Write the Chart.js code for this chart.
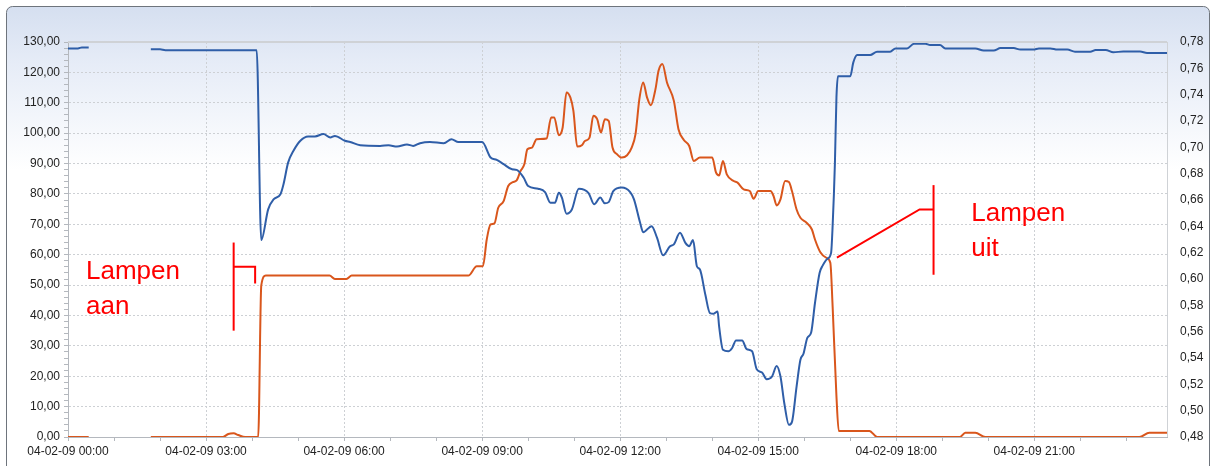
<!DOCTYPE html>
<html>
<head>
<meta charset="utf-8">
<script src="https://cdn.jsdelivr.net/npm/chart.js@4.4.1/dist/chart.umd.min.js"></script>
<style>
  html, body { margin: 0; padding: 0; background: #fff; }
  canvas { display: block; }
</style>
</head>
<body>
<canvas id="lampChart" width="1212" height="466"></canvas>
<script>
// Lampen aan / uit - twee meetreeksen over een dag (04-02-09)
const xTickLabels = ['04-02-09 00:00', '04-02-09 03:00', '04-02-09 06:00', '04-02-09 09:00',
  '04-02-09 12:00', '04-02-09 15:00', '04-02-09 18:00', '04-02-09 21:00'];

// blauwe reeks (linker as, 0 - 130)
const blueTimes = ['00:00', '00:13', '00:18', '00:27', '00:50', '01:48', '02:00', '02:07', '04:06', '04:12',
  '04:21', '04:28', '04:37', '04:41', '04:47', '04:54', '05:03', '05:13', '05:22', '05:33',
  '05:42', '05:48', '06:01', '06:08', '06:21', '06:47', '06:58', '07:09', '07:22', '07:30',
  '07:39', '07:52', '08:10', '08:20', '08:29', '09:00', '09:11', '09:19', '09:28', '09:39',
  '09:45', '09:54', '10:00', '10:13', '10:22', '10:29', '10:35', '10:40', '10:44', '10:50',
  '10:57', '11:06', '11:19', '11:26', '11:34', '11:40', '11:45', '11:51', '12:02', '12:13',
  '12:18', '12:26', '12:30', '12:41', '12:48', '12:56', '13:05', '13:10', '13:18', '13:25',
  '13:30', '13:35', '13:40', '13:44', '13:51', '13:57', '14:02', '14:07', '14:09', '14:14',
  '14:21', '14:26', '14:31', '14:39', '14:45', '14:52', '14:58', '15:05', '15:11', '15:18',
  '15:24', '15:29', '15:34', '15:40', '15:44', '15:50', '15:55', '15:59', '16:04', '16:09',
  '16:14', '16:20', '16:24', '16:30', '16:35', '16:37', '16:40', '16:42', '16:44', '17:00',
  '17:04', '17:09', '17:26', '17:35', '17:52', '17:59', '18:14', '18:23', '18:38', '18:44',
  '18:57', '19:04', '19:43', '19:54', '20:07', '20:16', '20:33', '20:42', '20:59', '21:06',
  '21:21', '21:30', '21:43', '21:53', '22:13', '22:20', '22:33', '22:43', '22:56', '23:18',
  '23:27', '23:53'];
const blueValues = [127.9, 127.9, 128.2, 128.2, null, 127.6, 127.6, 127.3, 127.3, 64.8,
  74.9, 78.2, 79.9, 83.2, 90.3, 94.2, 97.5, 98.9, 98.9, 99.7,
  98.6, 99.1, 97.5, 97.1, 96.0, 95.8, 96.0, 95.6, 96.3, 95.8,
  96.7, 97.1, 96.7, 98.0, 97.1, 97.1, 92.0, 91.2, 89.8, 88.1,
  87.9, 85.4, 82.6, 81.7, 80.6, 77.1, 77.1, 80.4, 78.8, 73.5,
  74.9, 81.7, 80.2, 76.6, 78.8, 76.9, 77.3, 80.9, 82.1, 80.6,
  78.2, 70.5, 67.4, 69.4, 65.6, 59.8, 62.8, 63.4, 67.2, 63.9,
  62.8, 64.8, 56.2, 55.1, 46.9, 40.8, 40.6, 41.3, 36.4, 28.7,
  28.2, 29.3, 31.8, 31.8, 28.9, 28.2, 22.3, 21.2, 19.0, 19.9,
  23.4, 19.9, 11.1, 4.0, 5.0, 16.6, 25.4, 27.4, 32.6, 34.4,
  44.1, 54.0, 56.4, 58.6, 60.6, 69.4, 90.3, 111.8, 118.7, 118.7,
  123.3, 125.7, 125.7, 126.8, 126.8, 127.9, 127.9, 129.4, 129.4, 129.0,
  129.0, 127.9, 127.9, 127.2, 127.2, 128.0, 128.0, 127.5, 127.5, 127.9,
  127.9, 127.5, 127.5, 126.8, 126.8, 127.4, 127.4, 126.6, 126.9, 126.9,
  126.4, 126.4];

// oranje reeks (rechter as, 0,48 - 0,78)
const orangeTimes = ['00:00', '00:27', '00:50', '01:48', '03:22', '03:29', '03:36', '03:42', '03:51', '04:08',
  '04:12', '04:18', '05:41', '05:48', '06:03', '06:10', '08:42', '08:53', '09:01', '09:06',
  '09:11', '09:16', '09:21', '09:28', '09:34', '09:40', '09:45', '09:50', '09:55', '09:59',
  '10:05', '10:11', '10:24', '10:30', '10:34', '10:40', '10:45', '10:50', '10:55', '10:59',
  '11:04', '11:10', '11:14', '11:20', '11:25', '11:30', '11:35', '11:40', '11:45', '11:50',
  '11:56', '12:02', '12:09', '12:15', '12:20', '12:25', '12:30', '12:35', '12:40', '12:46',
  '12:50', '12:55', '13:01', '13:10', '13:16', '13:23', '13:30', '13:36', '13:44', '14:00',
  '14:05', '14:09', '14:14', '14:19', '14:28', '14:33', '14:41', '14:49', '14:54', '15:00',
  '15:16', '15:20', '15:24', '15:29', '15:35', '15:40', '15:44', '15:50', '15:55', '16:03',
  '16:10', '16:14', '16:21', '16:29', '16:34', '16:37', '16:42', '16:45', '17:25', '17:35',
  '19:23', '19:30', '19:43', '19:56', '23:17', '23:30', '23:53'];
const orangeValues = [0.48, 0.48, null, 0.48, 0.48, 0.4823, 0.4828, 0.4815, 0.48, 0.48,
  0.595, 0.6026, 0.6026, 0.600, 0.600, 0.6026, 0.6026, 0.6097, 0.6097, 0.630,
  0.6414, 0.6422, 0.6541, 0.6592, 0.6706, 0.6736, 0.6749, 0.682, 0.6871, 0.6985,
  0.6998, 0.7061, 0.7067, 0.7227, 0.7227, 0.7092, 0.7151, 0.7417, 0.7379, 0.7277,
  0.7006, 0.7016, 0.7048, 0.7074, 0.7239, 0.7214, 0.7112, 0.7214, 0.7201, 0.6998,
  0.6947, 0.6922, 0.694, 0.6998, 0.71, 0.7366, 0.7493, 0.7379, 0.732, 0.7442,
  0.7581, 0.7633, 0.7493, 0.7353, 0.7138, 0.7056, 0.701, 0.6896, 0.6922, 0.6922,
  0.6808, 0.6787, 0.6896, 0.6795, 0.6744, 0.6732, 0.6681, 0.6668, 0.661, 0.6668,
  0.6668, 0.663, 0.6559, 0.6605, 0.6744, 0.6736, 0.6668, 0.6528, 0.6465, 0.6427,
  0.6376, 0.63, 0.6203, 0.616, 0.6123, 0.5792, 0.5107, 0.4846, 0.4846, 0.48,
  0.48, 0.4833, 0.4833, 0.48, 0.48, 0.4833, 0.4833];

// annotaties in data-eenheden (minuten, linker as)
const aanLines = [[[216, 64], [216, 35]], [[216, 56], [244, 56], [244, 50.5]]];
const uitLines = [[[1128.6, 82.9], [1128.6, 53.4]], [[1128.6, 74.9], [1110.4, 74.9], [1002.6, 59.0]]];
const aanText = [['Lampen', 23.5, 52.0], ['aan', 23.5, 40.6]];
const uitText = [['Lampen', 1177.8, 71.0], ['uit', 1177.8, 59.5]];

const toMin = s => { const p = s.split(':'); return (+p[0]) * 60 + (+p[1]); };
const points = (times, vals) => times.map((t, i) => ({ x: toMin(t), y: vals[i] }));
const comma = (v, d) => v.toFixed(d).replace('.', ',');

const panelPlugin = {
  id: 'panel',
  beforeDraw(chart) {
    const c = chart.ctx;
    c.save();
    c.fillStyle = '#ffffff';
    c.fillRect(0, 0, chart.width, chart.height);
    const g = c.createLinearGradient(0, 6, 0, 170);
    g.addColorStop(0, '#d5dff0');
    g.addColorStop(0.35, '#e6ecf7');
    g.addColorStop(1, '#ffffff');
    c.beginPath();
    c.roundRect(6.5, 6.5, chart.width - 9, chart.height + 20, 6);
    c.fillStyle = g;
    c.fill();
    c.strokeStyle = '#6e747c';
    c.lineWidth = 1;
    c.stroke();
    c.restore();
  },
  afterDraw(chart) {
    const c = chart.ctx;
    const a = chart.chartArea;
    const xs = chart.scales.x, ys = chart.scales.y;
    c.save();
    c.strokeStyle = '#cfd2d6';
    c.lineWidth = 2;
    c.beginPath();
    c.moveTo(a.left, a.top);
    c.lineTo(a.right, a.top);
    c.stroke();
    c.lineWidth = 1;
    c.beginPath();
    c.moveTo(Math.round(a.right) + 0.5, a.top);
    c.lineTo(Math.round(a.right) + 0.5, a.bottom);
    c.stroke();

    c.strokeStyle = '#ff0000';
    c.lineWidth = 2;
    [...aanLines, ...uitLines].forEach(line => {
      c.beginPath();
      line.forEach((p, i) => {
        const px = xs.getPixelForValue(p[0]), py = ys.getPixelForValue(p[1]);
        if (i === 0) c.moveTo(px, py); else c.lineTo(px, py);
      });
      c.stroke();
    });
    c.fillStyle = '#ff0000';
    c.font = '26px "Liberation Sans", Arial, sans-serif';
    c.textBaseline = 'alphabetic';
    [...aanText, ...uitText].forEach(t => {
      c.fillText(t[0], xs.getPixelForValue(t[1]), ys.getPixelForValue(t[2]));
    });
    c.restore();
  }
};

const tickFont = { family: '"Liberation Sans", Arial, sans-serif', size: 12 };

new Chart(document.getElementById('lampChart'), {
  type: 'line',
  data: {
    datasets: [{
      data: points(blueTimes, blueValues),
      yAxisID: 'y',
      borderColor: '#2f5ea8',
      borderWidth: 2,
      pointRadius: 0,
      cubicInterpolationMode: 'monotone',
      spanGaps: false
    }, {
      data: points(orangeTimes, orangeValues),
      yAxisID: 'y1',
      borderColor: '#d9561c',
      borderWidth: 2,
      pointRadius: 0,
      cubicInterpolationMode: 'monotone',
      spanGaps: false
    }]
  },
  options: {
    responsive: false,
    animation: false,
    layout: { padding: { top: 42, left: 0, right: 0, bottom: 0 } },
    plugins: { legend: { display: false }, tooltip: { enabled: false } },
    scales: {
      x: {
        type: 'linear',
        min: 0,
        max: 1433,
        afterFit: s => { s.height = 29; },
        border: { color: '#b4b8be', dash: [2, 2] },
        grid: {
          color: c => (c.tick && c.tick.value % 180 === 0 && c.tick.value > 0) ? '#cdd0d4' : 'transparent',
          tickColor: c => (c.tick && c.tick.value % 60 === 0) ? '#b4b8be' : 'transparent',
          tickLength: 4
        },
        ticks: {
          stepSize: 60,
          includeBounds: false,
          autoSkip: false,
          maxRotation: 0,
          padding: 3,
          color: '#222222',
          font: tickFont,
          callback: v => (v % 180 === 0 ? xTickLabels[v / 180] : '')
        }
      },
      y: {
        position: 'left',
        min: 0,
        max: 130,
        afterFit: s => { s.width = 68; },
        border: { color: '#b4b8be', dash: [2, 2] },
        grid: {
          color: c => (c.tick && c.tick.value % 10 === 0 && c.tick.value > 0 && c.tick.value < 130) ? '#cdd0d4' : 'transparent',
          tickColor: '#b4b8be',
          tickLength: 4
        },
        ticks: {
          stepSize: 2,
          autoSkip: false,
          padding: 4,
          color: '#222222',
          font: tickFont,
          callback: v => (v % 10 === 0 ? comma(v, 2) : '')
        }
      },
      y1: {
        position: 'right',
        min: 0.48,
        max: 0.78,
        afterFit: s => { s.width = 45; },
        border: { display: false },
        grid: { drawOnChartArea: false, drawTicks: false },
        ticks: {
          stepSize: 0.02,
          autoSkip: false,
          padding: 13,
          color: '#222222',
          font: tickFont,
          callback: v => comma(v, 2)
        }
      }
    }
  },
  plugins: [panelPlugin]
});
</script>
</body>
</html>
